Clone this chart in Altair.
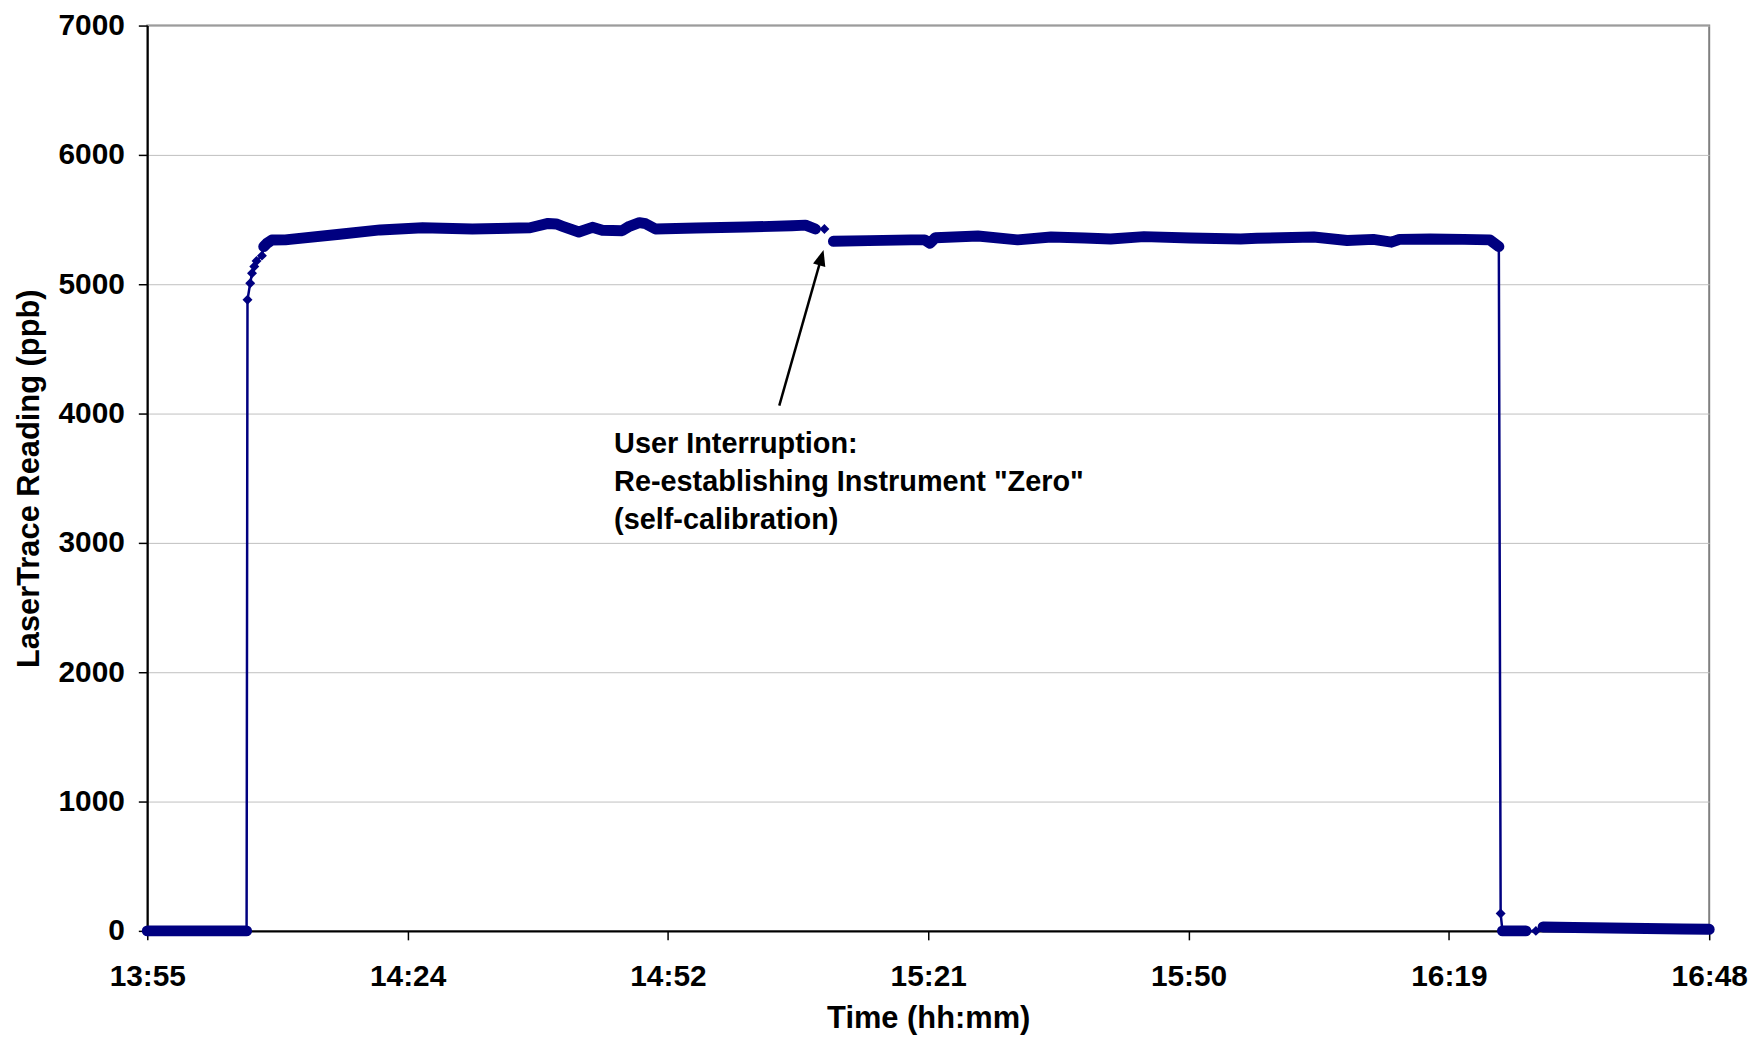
import json
import altair as alt
import pandas as pd

# ---- data (minutes after 13:55, ppb) ----
time_min = [0, 1, 2, 3, 4, 5, 6, 7, 8, 9, 10, 11.0,
            11.1, 11.4, 11.6, 11.85, 12.1, 12.7,
            12.9, 13.25, 13.8, 15.3, 15.8, 21.3, 25.8, 30.5, 36.0, 42.4, 44.4, 45.3,
            46.0, 47.8, 49.3, 50.4, 52.6, 53.4, 54.5, 55.2, 56.3, 60.8, 66.3, 71.4,
            72.9, 74.0,
            75.0,
            76.0, 79.9, 84.6, 86.1, 86.7, 87.3, 92.0, 96.4, 100.1, 103.8, 106.7, 110.4,
            115.5, 121.1, 122.9, 129.2, 132.9, 135.8, 137.8, 138.7, 142.1, 145.8, 148.7,
            149.7,
            149.9,
            150.1, 151.0, 152.0, 152.7,
            153.8,
            154.6, 158, 162, 166, 170, 173]
reading = [0, 0, 0, 0, 0, 0, 0, 0, 0, 0, 0, 0,
           4880, 5008, 5085, 5137, 5180, 5221,
           5291, 5316, 5342, 5343, 5347, 5386, 5420, 5437, 5427, 5437, 5470, 5466,
           5448, 5404, 5440, 5417, 5414, 5448, 5476, 5468, 5427, 5435, 5442, 5452,
           5457, 5427,
           5427,
           5332, 5337, 5343, 5343, 5317, 5360, 5373, 5343, 5365, 5357, 5350, 5368,
           5357, 5350, 5355, 5365, 5338, 5347, 5325, 5347, 5350, 5347, 5343,
           5291,
           134,
           0, 0, 0, 0,
           0,
           30, 26, 22, 18, 14, 12]
# line pieces (gap around the isolated reading during the user interruption)
segment = [1] * 44 + [2] + [3] * 36
# dense runs of markers (drawn as a thick band)
band = (["z1"] * 12 + [""] * 6 + ["p1"] * 26 + [""] + ["p2"] * 24 + [""]
        + ["z2"] * 4 + [""] + ["z3"] * 6)

x_tick_labels = ["13:55", "14:24", "14:52", "15:21", "15:50", "16:19", "16:48"]
x_span = 173
y_ticks = [0, 1000, 2000, 3000, 4000, 5000, 6000, 7000]

annotation_lines = ["User Interruption:", "Re-establishing Instrument \"Zero\"", "(self-calibration)"]
annotation_pos = [51.7, 3765]
arrow_tail = [70.0, 4062]
arrow_head = [74.66, 5206]

df = pd.DataFrame({"t": time_min, "v": reading, "seg": segment, "band": band})

FONT = "Liberation Sans"
NAVY = "#000080"
step = x_span / 6
x_vals = [step * i for i in range(7)]
label_expr = f"{json.dumps(x_tick_labels)}[round(datum.value / {step})]"

xs = alt.Scale(domain=[0, x_span], nice=False, zero=False)
ys = alt.Scale(domain=[0, 7000], nice=False)
x_axis = alt.Axis(values=x_vals, labelExpr=label_expr, title="Time (hh:mm)", grid=False,
                  tickSize=9, tickColor="black", tickWidth=1.5, labelPadding=22,
                  labelFontSize=30, labelFont=FONT, labelFontWeight="bold", labelColor="black",
                  titleFont=FONT, titleFontSize=31, titleFontWeight="bold", titleColor="black",
                  titlePadding=12, domainColor="black", domainWidth=2, labelFlush=False)
y_axis = alt.Axis(values=y_ticks, title="LaserTrace Reading (ppb)", grid=True,
                  gridColor="#c0c0c0", gridWidth=1,
                  tickSize=9, tickColor="black", tickWidth=1.5, labelPadding=14,
                  labelFontSize=30, labelFont=FONT, labelFontWeight="bold", labelColor="black",
                  titleFont=FONT, titleFontSize=31, titleFontWeight="bold", titleColor="black",
                  titlePadding=13, domainColor="black", domainWidth=2, format="d")

def X(field="t"):
    return alt.X(f"{field}:Q", scale=xs, axis=x_axis)

def Y(field="v"):
    return alt.Y(f"{field}:Q", scale=ys, axis=y_axis)

base = alt.Chart(df)

thin = base.mark_line(color=NAVY, strokeWidth=2.5).encode(
    x=X(), y=Y(), detail="seg:N", order="t:Q")
thick = base.transform_filter("datum.band != ''").mark_line(
    color=NAVY, strokeWidth=11, strokeCap="round", strokeJoin="round").encode(
    x=X(), y=Y(), detail="band:N", order="t:Q")
pts = base.mark_point(shape="diamond", filled=True, size=100, color=NAVY, opacity=1).encode(
    x=X(), y=Y())

arrow_df = pd.DataFrame({"t": [arrow_tail[0]], "v": [arrow_tail[1]],
                         "t2": [arrow_head[0]], "v2": [arrow_head[1]]})
arrow_line = alt.Chart(arrow_df).mark_rule(color="black", strokeWidth=2.5).encode(
    x=X(), y=Y(), x2="t2:Q", y2="v2:Q")
head_df = pd.DataFrame({"t": [arrow_head[0]], "v": [arrow_head[1]]})
arrow_tip = alt.Chart(head_df).mark_point(
    shape="M0,-1L0.8,1L-0.8,1Z", filled=True, size=256, angle=15.9,
    color="black", opacity=1).encode(x=X(), y=Y())

text_df = pd.DataFrame({"t": [annotation_pos[0]], "v": [annotation_pos[1]]})
note = alt.Chart(text_df).mark_text(
    align="left", baseline="middle", font=FONT, fontSize=29, fontWeight="bold",
    lineHeight=38, color="black").encode(
    x=X(), y=Y(), text=alt.value(annotation_lines))

chart = alt.layer(thin, thick, pts, arrow_line, arrow_tip, note).properties(
    width=1570, height=910,
    padding={"left": 5, "top": 0, "right": 0, "bottom": 0},
    background="white",
).configure_view(stroke="#808080", strokeWidth=2)

chart.save("out.html", embed_options={"renderer": "svg", "actions": False})
